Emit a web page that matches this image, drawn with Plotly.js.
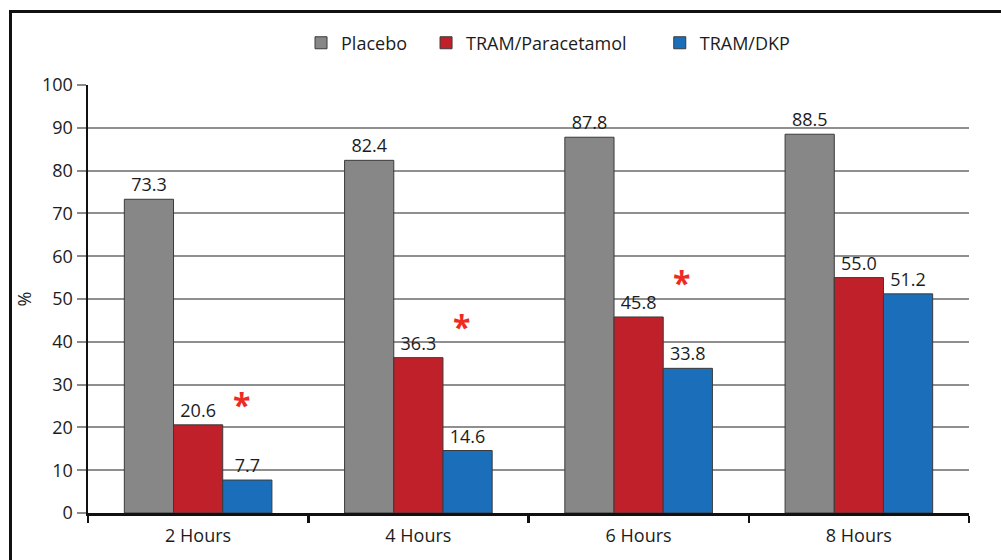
<!DOCTYPE html>
<html>
<head>
<meta charset="utf-8">
<script src="https://cdn.plot.ly/plotly-3.0.1.min.js"></script>
<style>
html,body{margin:0;padding:0;background:#fff;}
#chart{width:1001px;height:560px;position:absolute;left:0;top:0;}
#frame{position:absolute;left:9px;top:10px;width:1000px;height:560px;border-top:3px solid #111;border-left:3px solid #111;pointer-events:none;}
</style>
</head>
<body>
<div id="chart"></div>
<div id="frame"></div>
<script>
const categories = ['2 Hours', '4 Hours', '6 Hours', '8 Hours'];
const placebo = [73.3, 82.4, 87.8, 88.5];
const tramParacetamol = [20.6, 36.3, 45.8, 55.0];
const tramDkp = [7.7, 14.6, 33.8, 51.2];
const seriesNames = ['Placebo', 'TRAM/Paracetamol', 'TRAM/DKP'];
const significant = [true, true, true, false];
const yTicks = [0, 10, 20, 30, 40, 50, 60, 70, 80, 90, 100];

const colors = ['#878787', '#c0202a', '#1b6fba'];
const font = 'Open Sans, Noto Sans, sans-serif';
const txt = '#1c1c1c';
const legendIds = ['legend', 'legend2', 'legend3'];
const legendX = [0.2418, 0.3837, 0.649];

function barTrace(i, vals) {
  return {
    type: 'bar', name: seriesNames[i], x: categories, y: vals, legend: legendIds[i],
    text: vals.map(v => v.toFixed(1)), textposition: 'outside',
    textfont: {family: font, size: 18, color: txt},
    marker: {color: colors[i], line: {color: '#3a3a3a', width: 1}},
    cliponaxis: false, hoverinfo: 'none'
  };
}

const data = [
  barTrace(0, placebo),
  barTrace(1, tramParacetamol),
  barTrace(2, tramDkp)
];

const starOffsets = [6.5, 8.8, 9.8];
const annotations = [];
significant.forEach((s, i) => {
  if (s) annotations.push({
    xref: 'x', yref: 'y', x: i + 0.195, y: tramParacetamol[i] + starOffsets[i],
    text: '<b>*</b>', showarrow: false,
    font: {family: font, size: 32, color: '#ee2a22'},
    yanchor: 'middle', yshift: -7
  });
});

function legendCfg(x) {
  return {orientation: 'h', x: x, y: 1.098, xanchor: 'left', yanchor: 'middle',
          bgcolor: 'rgba(0,0,0,0)', font: {family: font, size: 18, color: txt}, itemwidth: 30};
}

const layout = {
  width: 1001, height: 560,
  margin: {l: 88, r: 32, t: 85, b: 47},
  paper_bgcolor: '#fff', plot_bgcolor: '#fff',
  barmode: 'group', bargap: 0.33, bargroupgap: 0,
  font: {family: font, size: 18, color: txt},
  showlegend: true,
  legend: legendCfg(legendX[0]),
  legend2: legendCfg(legendX[1]),
  legend3: legendCfg(legendX[2]),
  xaxis: {
    type: 'category', showline: true, linecolor: '#111', linewidth: 2.5,
    ticks: 'outside', tickson: 'boundaries', ticklen: 7, tickwidth: 2.5, tickcolor: '#111',
    ticklabelstandoff: 5,
    showgrid: false, tickfont: {family: font, size: 18, color: txt}
  },
  yaxis: {
    range: [0, 100], tickvals: yTicks, showline: true, linecolor: '#111', linewidth: 2.5,
    ticks: 'outside', ticklen: 9, tickwidth: 2, tickcolor: '#8a8a8a',
    showgrid: true, gridcolor: '#8f8f8f', gridwidth: 2, zeroline: false,
    tickfont: {family: font, size: 18, color: txt},
    title: {text: '%', standoff: 6, font: {family: font, size: 18, color: txt}}
  },
  annotations: annotations
};

Plotly.newPlot('chart', data, layout, {displayModeBar: false, staticPlot: true});
</script>
</body>
</html>
